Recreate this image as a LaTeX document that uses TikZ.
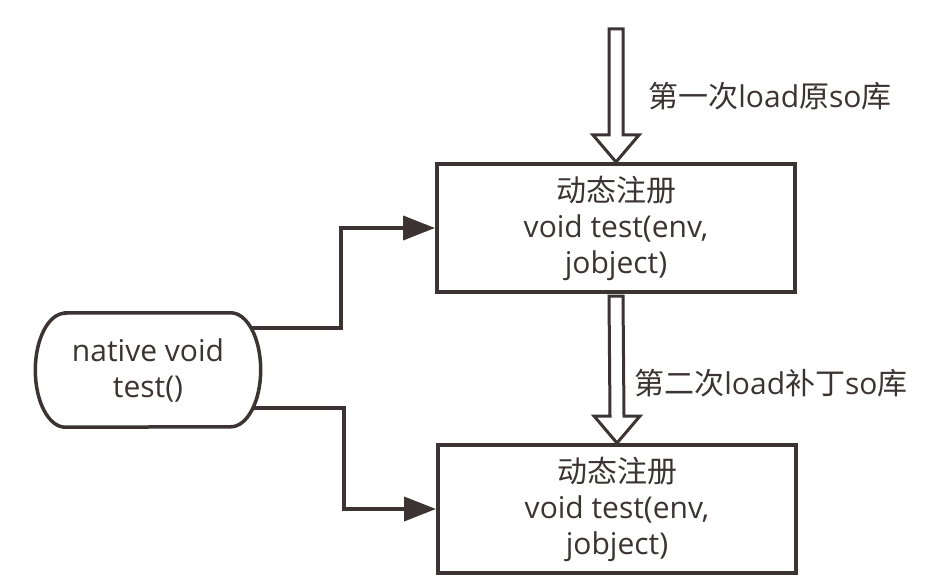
\documentclass[tikz,border=0pt]{standalone}
\usepackage{fontspec}
\setmainfont{Open Sans}
\newfontfamily\cjk{Noto Sans CJK SC}
\usetikzlibrary{arrows.meta,backgrounds}
\definecolor{ink}{HTML}{3B3433}
\begin{document}
\begin{tikzpicture}[x=1pt,y=-1pt,
  txt/.style={text=ink, font=\fontsize{30}{36}\selectfont, align=center, inner sep=0pt},
  regbox/.style={txt, draw=ink, line width=4pt, fill=white, minimum width=358pt, minimum height=128pt},
  startbox/.style={txt, minimum width=225pt, minimum height=114pt},
  startline/.style={draw=ink, line width=3.5pt, fill=white},
  conn/.style={draw=ink, line width=3.8pt, line join=miter, -{Triangle[length=32pt,width=24pt]}},
  hollow/.style={draw=ink, line width=3pt, fill=white, line join=miter}]
\useasboundingbox (0,0) rectangle (948,588);

\node[regbox] (b1) at (616,228) {{\cjk 动态注册}\\void test(env,\\jobject)};
\node[regbox] (b2) at (617,509) {{\cjk 动态注册}\\void test(env,\\jobject)};
\node[startbox] (nat) at (148,370) {};

\begin{scope}[on background layer]
\draw[conn] ([yshift=42pt]nat.center) -| ([xshift=-94pt]b1.west) -- (b1.west);
\draw[conn] ([yshift=-38pt]nat.center) -| ([xshift=-92pt]b2.west) -- (b2.west);
\end{scope}

\draw[startline] ([xshift=30pt]nat.north west) -- ([xshift=-30pt]nat.north east)
  arc[start angle=90, end angle=-90, x radius=30pt, y radius=57pt]
  -- ([xshift=30pt]nat.south west)
  arc[start angle=270, end angle=90, x radius=30pt, y radius=57pt] -- cycle;
\node[txt] at (nat.center) {native void\\test()};

\draw[hollow] ([xshift=-7pt,yshift=133pt]b1.north) -- ([xshift=-7pt,yshift=27pt]b1.north)
  -- ([xshift=-23pt,yshift=27pt]b1.north) -- (b1.north)
  -- ([xshift=23pt,yshift=27pt]b1.north) -- ([xshift=7pt,yshift=27pt]b1.north)
  -- ([xshift=7pt,yshift=133pt]b1.north) -- cycle;
\draw[hollow] ([xshift=-7pt,yshift=-2pt]b1.south) -- ([xshift=-7pt,yshift=27pt]b2.north)
  -- ([xshift=-23pt,yshift=27pt]b2.north) -- (b2.north)
  -- ([xshift=23pt,yshift=27pt]b2.north) -- ([xshift=7pt,yshift=27pt]b2.north)
  -- ([xshift=7pt,yshift=-2pt]b1.south) -- cycle;

\node[txt] (l1) at (770,96) {{\cjk 第一次}load{\cjk 原}so{\cjk 库}};
\node[txt] (l2) at (771,383) {{\cjk 第二次}load{\cjk 补丁}so{\cjk 库}};
\end{tikzpicture}
\end{document}
